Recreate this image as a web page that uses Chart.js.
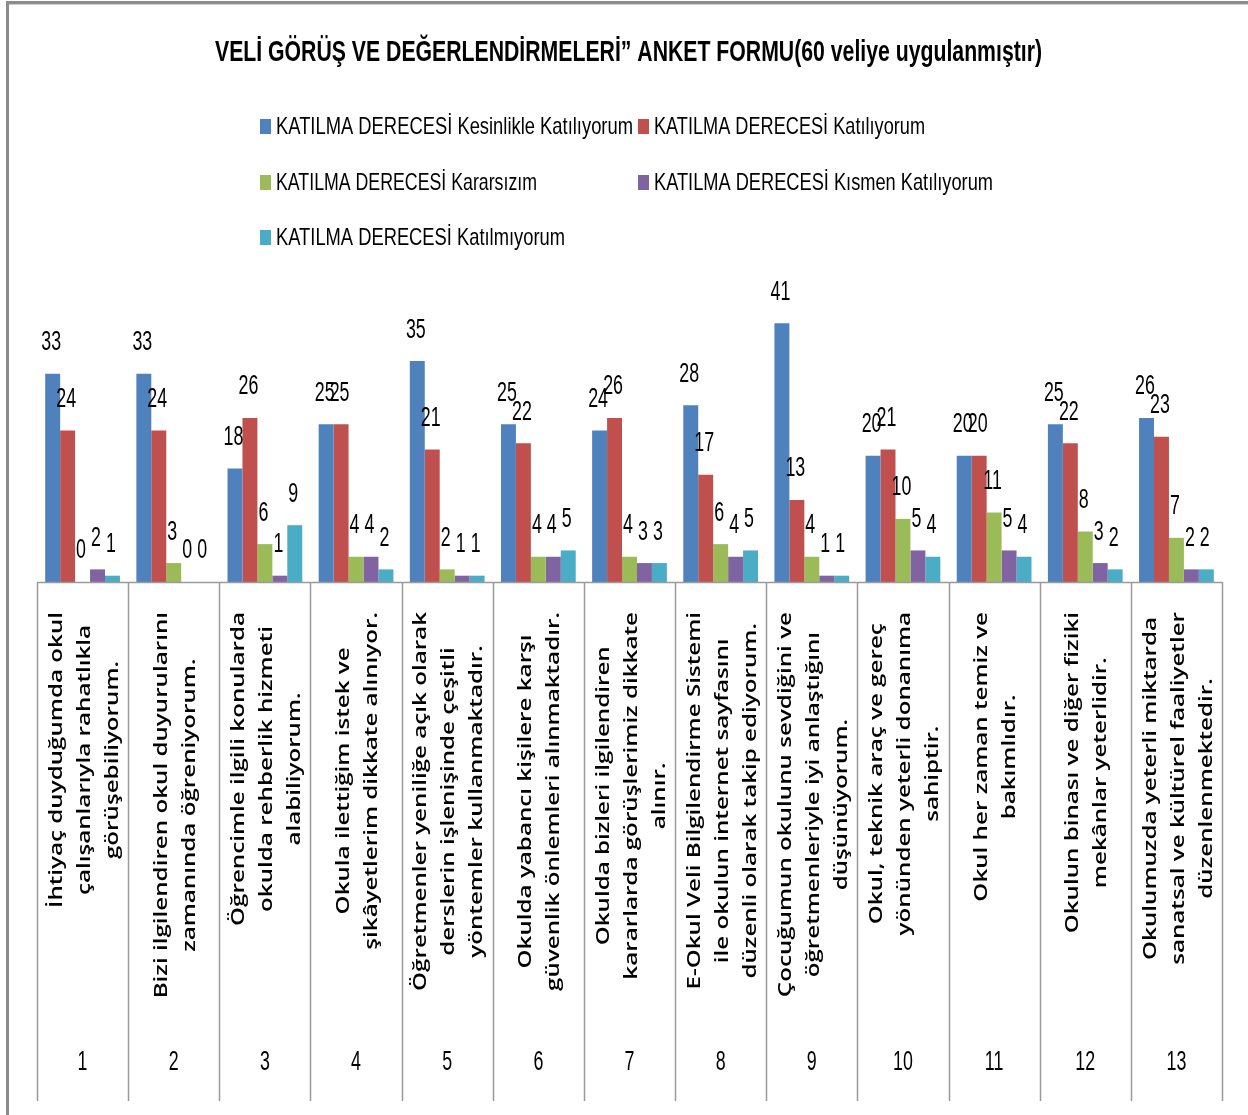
<!DOCTYPE html>
<html>
<head>
<meta charset="utf-8">
<script src="https://cdn.jsdelivr.net/npm/chart.js@4"></script>
<style>
html,body{margin:0;padding:0;background:#fff;}
#wrap{position:relative;width:1248px;height:1115px;}
canvas{display:block;}
</style>
</head>
<body>
<div id="wrap"><canvas id="c" width="1248" height="1115"></canvas></div>
<script>
// ---- data ----
const chartTitle = 'VELİ GÖRÜŞ VE DEĞERLENDİRMELERİ” ANKET FORMU(60 veliye uygulanmıştır)';
const itemNumbers = ['1','2','3','4','5','6','7','8','9','10','11','12','13'];
const itemTexts = [
  ['İhtiyaç duyduğumda okul', 'çalışanlarıyla rahatlıkla', 'görüşebiliyorum.'],
  ['Bizi ilgilendiren okul duyurularını', 'zamanında öğreniyorum.'],
  ['Öğrencimle ilgili konularda', 'okulda rehberlik hizmeti', 'alabiliyorum.'],
  ['Okula ilettiğim istek ve', 'şikâyetlerim dikkate alınıyor.'],
  ['Öğretmenler yeniliğe açık olarak', 'derslerin işlenişinde çeşitli', 'yöntemler kullanmaktadır.'],
  ['Okulda yabancı kişilere karşı', 'güvenlik önlemleri alınmaktadır.'],
  ['Okulda bizleri ilgilendiren', 'kararlarda görüşlerimiz dikkate', 'alınır.'],
  ['E-Okul Veli Bilgilendirme Sistemi', 'ile okulun internet sayfasını', 'düzenli olarak takip ediyorum.'],
  ['Çocuğumun okulunu sevdiğini ve', 'öğretmenleriyle iyi anlaştığını', 'düşünüyorum.'],
  ['Okul, teknik araç ve gereç', 'yönünden yeterli donanıma', 'sahiptir.'],
  ['Okul her zaman temiz ve', 'bakımlıdır.'],
  ['Okulun binası ve diğer fiziki', 'mekânlar yeterlidir.'],
  ['Okulumuzda yeterli miktarda', 'sanatsal ve kültürel faaliyetler', 'düzenlenmektedir.']
];
const seriesNames = [
  'KATILMA DERECESİ Kesinlikle Katılıyorum',
  'KATILMA DERECESİ Katılıyorum',
  'KATILMA DERECESİ Kararsızım',
  'KATILMA DERECESİ Kısmen Katılıyorum',
  'KATILMA DERECESİ Katılmıyorum'
];
const kesinlikleKatiliyorum = [33, 33, 18, 25, 35, 25, 24, 28, 41, 20, 20, 25, 26];
const katiliyorum          = [24, 24, 26, 25, 21, 22, 26, 17, 13, 21, 20, 22, 23];
const kararsizim           = [ 0,  3,  6,  4,  2,  4,  4,  6,  4, 10, 11,  8,  7];
const kismenKatiliyorum    = [ 2,  0,  1,  4,  1,  4,  3,  4,  1,  5,  5,  3,  2];
const katilmiyorum         = [ 1,  0,  9,  2,  1,  5,  3,  5,  1,  4,  4,  2,  2];
const seriesValues = [kesinlikleKatiliyorum, katiliyorum, kararsizim, kismenKatiliyorum, katilmiyorum];
const seriesColors = ['#4F81BD', '#C0504D', '#9BBB59', '#8064A2', '#4BACC6'];

// ---- helpers ----
function fitText(ctx, text, x, y, target) {
  const w = ctx.measureText(text).width;
  ctx.save();
  ctx.translate(x, y);
  ctx.scale(target / w, 1);
  ctx.fillText(text, 0, 0);
  ctx.restore();
}
function squeezeText(ctx, text, x, y, sx) {
  ctx.save();
  ctx.translate(x, y);
  ctx.scale(sx, 1);
  ctx.fillText(text, 0, 0);
  ctx.restore();
}

const decorPlugin = {
  id: 'decor',
  afterDraw(chart) {
    const ctx = chart.ctx;
    const xs = chart.scales.x;
    const area = chart.chartArea;
    ctx.save();
    // outer frame
    ctx.fillStyle = '#8c8c8c';
    ctx.fillRect(6, 1, 1242, 3);
    ctx.fillRect(6, 1, 3, 1114);
    ctx.fillStyle = '#d0d0d0';
    ctx.fillRect(9, 4, 1239, 1);

    // title
    ctx.fillStyle = '#000';
    ctx.textBaseline = 'middle';
    ctx.textAlign = 'left';
    ctx.font = 'bold 30px "Liberation Sans", Arial, sans-serif';
    fitText(ctx, chartTitle, 215, 53, 827);

    // legend grid
    const legPos = [[260,126,357],[638,126,271],[260,182,261],[638,182,339],[260,237,289]];
    ctx.font = '24px "Liberation Sans", Arial, sans-serif';
    for (let i = 0; i < seriesNames.length; i++) {
      const [lx, ly, tw] = legPos[i];
      ctx.fillStyle = seriesColors[i];
      ctx.fillRect(lx, ly - 7, 11, 15);
      ctx.fillStyle = '#000';
      fitText(ctx, seriesNames[i], lx + 16, ly + 1, tw);
    }

    // axis line & category separators
    const step = xs.getPixelForValue(1) - xs.getPixelForValue(0);
    ctx.strokeStyle = '#9a9a9a';
    ctx.lineWidth = 1.5;
    ctx.beginPath();
    ctx.moveTo(area.left, area.bottom + 0.5);
    ctx.lineTo(area.right, area.bottom + 0.5);
    for (let i = 0; i <= itemNumbers.length; i++) {
      const bx = Math.round(xs.getPixelForValue(i) - step / 2) + 0.5;
      ctx.moveTo(bx, area.bottom);
      ctx.lineTo(bx, 1101);
    }
    ctx.stroke();

    // data labels
    ctx.fillStyle = '#000';
    ctx.textAlign = 'center';
    ctx.textBaseline = 'middle';
    ctx.font = '27px "Liberation Sans", Arial, sans-serif';
    for (let d = 0; d < seriesValues.length; d++) {
      const meta = chart.getDatasetMeta(d);
      meta.data.forEach((bar, i) => {
        squeezeText(ctx, String(seriesValues[d][i]), bar.x - 1.5, bar.y - 31, 0.66);
      });
    }

    // category texts (rotated)
    ctx.font = '600 18px "Open Sans", "DejaVu Sans", sans-serif';
    const refW = ctx.measureText(itemTexts[0][0]).width;
    const stretch = 296 / refW;
    for (let i = 0; i < itemTexts.length; i++) {
      const lines = itemTexts[i];
      const cx = xs.getPixelForValue(i) + 2;
      let maxW = 0;
      lines.forEach(t => { maxW = Math.max(maxW, ctx.measureText(t).width * stretch); });
      const cy = area.bottom + 30 + maxW / 2;
      ctx.save();
      ctx.translate(cx, cy);
      ctx.rotate(-Math.PI / 2);
      lines.forEach((t, k) => {
        const off = (k - (lines.length - 1) / 2) * 28;
        ctx.save();
        ctx.translate(0, off);
        ctx.scale(stretch, 1);
        ctx.fillText(t, 0, 0);
        ctx.restore();
      });
      ctx.restore();
    }

    // item numbers
    ctx.font = '27px "Liberation Sans", Arial, sans-serif';
    for (let i = 0; i < itemNumbers.length; i++) {
      squeezeText(ctx, itemNumbers[i], xs.getPixelForValue(i), 1063, 0.66);
    }
    ctx.restore();
  }
};

new Chart(document.getElementById('c'), {
  type: 'bar',
  data: {
    labels: itemNumbers,
    datasets: seriesNames.map((n, i) => ({
      label: n,
      data: seriesValues[i],
      backgroundColor: seriesColors[i],
      borderWidth: 0,
      barPercentage: 1,
      categoryPercentage: 0.82
    }))
  },
  options: {
    responsive: false,
    animation: false,
    devicePixelRatio: 1,
    layout: { padding: { left: 37, right: 26, top: 298, bottom: 533 } },
    plugins: { legend: { display: false }, title: { display: false }, tooltip: { enabled: false } },
    scales: {
      x: { display: false },
      y: { display: false, min: 0, max: 45 }
    }
  },
  plugins: [decorPlugin]
});
</script>
</body>
</html>
